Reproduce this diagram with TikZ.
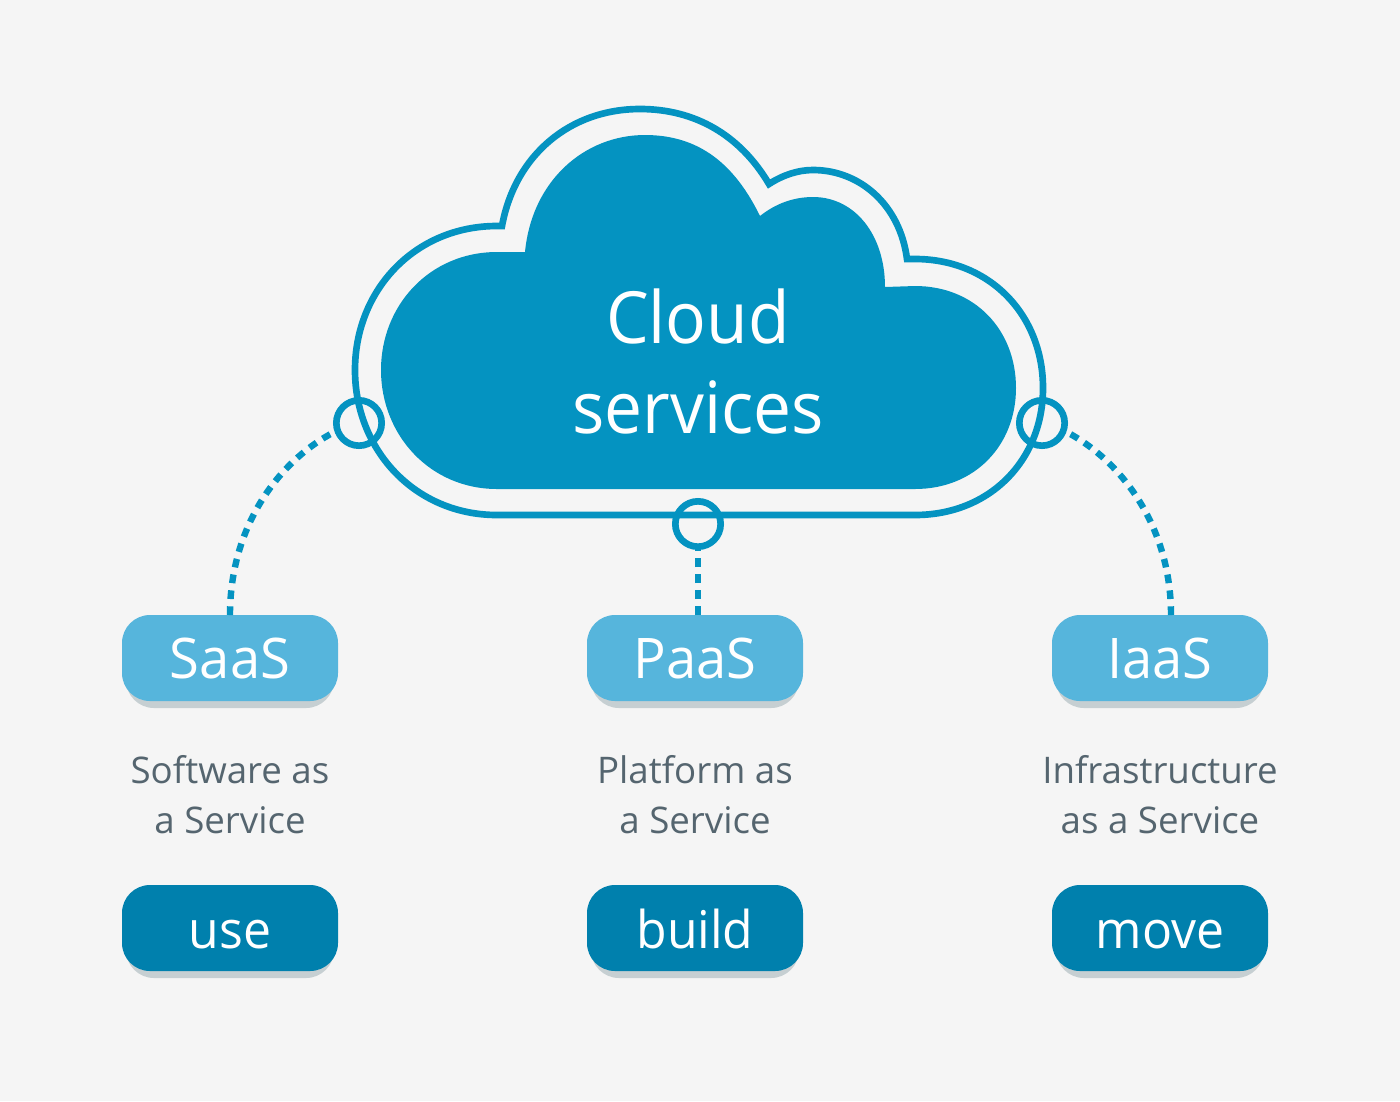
\documentclass[tikz,border=0pt]{standalone}
\usepackage{fontspec}
\setmainfont{Open Sans}
\newfontfamily\narrowA[FakeStretch=0.94]{Open Sans}
\newfontfamily\narrowB[FakeStretch=0.97]{Open Sans}
\newfontfamily\narrowC[FakeStretch=0.96]{Open Sans}
\definecolor{bgc}{HTML}{F5F5F5}
\definecolor{cloudc}{HTML}{0493C1}
\definecolor{lightc}{HTML}{56B5DC}
\definecolor{darkc}{HTML}{0080AD}
\definecolor{shadowc}{HTML}{C6CFD2}
\definecolor{textc}{HTML}{55656F}
\tikzset{
  x=0.75pt,y=-0.75pt,
  boxbase/.style={rectangle,rounded corners=21pt,minimum width=162pt,minimum height=64.5pt,inner sep=0pt,text=white,text height=30pt,text depth=0pt},
  lightbox/.style={boxbase,fill=lightc,font=\narrowB\fontsize{42}{50}\selectfont},
  darkbox/.style={boxbase,fill=darkc,font=\narrowC\fontsize{39}{50}\selectfont},
  shadowbox/.style={rectangle,rounded corners=21pt,minimum width=156pt,minimum height=64.5pt,inner sep=0pt,fill=shadowc},
  desc/.style={align=center,text=textc,inner sep=0pt,font=\fontsize{27.5}{37.5}\selectfont},
  ring/.style={circle,draw=cloudc,line width=5pt,minimum size=34pt,inner sep=0pt},
  dots/.style={draw=cloudc,line width=4.8pt,dash pattern=on 6.5pt off 5.5pt},
  outline/.style={draw=cloudc,line width=5pt,line join=miter},
}
\begin{document}
\begin{tikzpicture}
\useasboundingbox[fill=bgc] (0,0) rectangle (1400,1101);
% filled cloud
\path[fill=cloudc] (525,252)
  .. controls (532,180) and (585,135) .. (645,135)
  .. controls (700,135) and (735,165) .. (760,216)
  .. controls (775,204) and (793,197) .. (813,197)
  .. controls (855,197) and (885,235) .. (885,287)
  -- (915,286)
  .. controls (975,286) and (1016,330) .. (1016,388)
  .. controls (1016,445) and (975,489) .. (915,489)
  -- (497,489)
  .. controls (430,489) and (381,435) .. (381,370)
  .. controls (381,305) and (430,252) .. (497,252) -- cycle;
% outline
\path[outline] (502,226)
  .. controls (515,155) and (570,109) .. (640,109)
  .. controls (695,109) and (740,135) .. (769,184)
  .. controls (783,175) and (798,170) .. (813,170)
  .. controls (860,170) and (900,205) .. (907,259)
  -- (915,259)
  .. controls (990,259) and (1043,315) .. (1043,388)
  .. controls (1043,460) and (990,515) .. (915,515)
  -- (497,515)
  .. controls (415,515) and (355,450) .. (355,370)
  .. controls (355,290) and (415,226) .. (497,226) -- cycle;
% shadows
\foreach \n/\xx/\yy in {s1/230/665,s2/695/665,s3/1160/665,s4/230/935,s5/695/935,s6/1160/935}{
  \node[shadowbox] (\n) at (\xx,\yy) {};
}
% boxes
\node[lightbox] (saas) at (230,658) {SaaS};
\node[lightbox] (paas) at (695,658) {PaaS};
\node[lightbox] (iaas) at (1160,658) {IaaS};
\node[darkbox] (use) at (230,928) {use};
\node[darkbox] (build) at (695,928) {build};
\node[darkbox] (move) at (1160,928) {move};
% rings
\node[ring] (rl) at (359,423) {};
\node[ring] (rm) at (698,524) {};
\node[ring] (rr) at (1042,423) {};
\coordinate (pl) at (230,615);
\coordinate (pm) at (698,615);
\coordinate (pr) at (1171,615);
% connectors
\draw[dots] (pl) .. controls (230,525) and (280,460) .. (rl.200);
\draw[dots] (pm) -- (rm.south);
\draw[dots] (pr) .. controls (1171,525) and (1120,460) .. (rr.-20);
% text
\node[align=center,text=white,inner sep=0pt,font=\narrowA\fontsize{54}{67.5}\selectfont] (title) at (698,361) {Cloud\\services};
\node[desc] (d1) at (230,795) {Software as\\a Service};
\node[desc] (d2) at (695,795) {Platform as\\a Service};
\node[desc] (d3) at (1160,795) {Infrastructure\\as a Service};
\end{tikzpicture}
\end{document}
